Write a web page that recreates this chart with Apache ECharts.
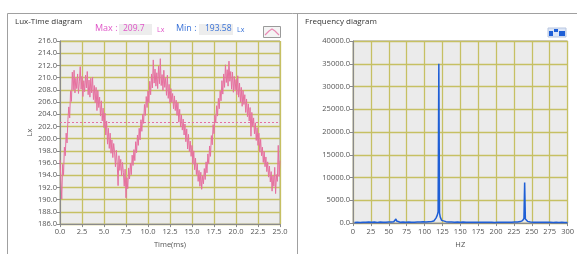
<!DOCTYPE html>
<html>
<head>
<meta charset="utf-8">
<script src="https://cdn.jsdelivr.net/npm/echarts@6/dist/echarts.min.js"></script>
<style>
  html, body { margin: 0; padding: 0; background: #fff; }
  #main { width: 577px; height: 254px; }
</style>
</head>
<body>
<div id="main"></div>
<script>
// lux samples, one every 0.1 ms (0.0 .. 25.0)
var luxValues = [
  196.5, 193.2, 190.1, 195.8, 194.0, 198.6, 197.2, 200.9, 199.3, 203.1,
  205.2, 203.4, 207.8, 206.1, 210.9, 208.0, 211.2, 207.5, 209.9, 208.2,
  210.6, 207.4, 209.3, 211.8, 208.1, 210.2, 206.9, 209.5, 207.7, 210.4,
  208.3, 211.0, 207.2, 209.6, 206.8, 209.9, 207.5, 210.1, 206.4, 208.7,
  205.9, 208.4, 204.6, 207.9, 205.1, 206.8, 203.7, 206.2, 202.9, 205.0,
  201.8, 204.2, 200.6, 202.9, 199.1, 201.7, 198.4, 200.9, 197.6, 199.8,
  196.9, 199.2, 197.8, 195.4, 198.1, 196.0, 192.3, 197.2, 194.8, 196.6,
  193.9, 196.1, 194.5, 192.2, 195.0, 190.3, 193.6, 191.8, 195.2, 193.4,
  196.0, 194.1, 197.3, 195.6, 198.2, 196.4, 199.5, 197.7, 200.6, 198.9,
  201.7, 199.8, 203.1, 201.2, 204.0, 202.5, 205.6, 203.8, 206.9, 205.1,
  207.8, 205.9, 209.4, 207.2, 210.6, 208.3, 212.9, 209.1, 211.4, 208.6,
  210.8, 208.2, 211.9, 209.0, 213.1, 208.7, 210.5, 207.9, 211.2, 208.4,
  209.9, 207.1, 210.4, 206.6, 208.9, 205.8, 208.2, 206.0, 207.4, 204.9,
  207.0, 204.6, 206.3, 203.8, 205.9, 202.7, 204.8, 201.9, 203.9, 201.4,
  203.2, 200.6, 202.4, 199.5, 201.6, 198.3, 200.7, 197.9, 199.6, 197.1,
  198.9, 195.8, 198.0, 194.9, 196.8, 194.1, 195.9, 193.0, 194.8, 192.2,
  194.5, 191.7, 193.9, 192.6, 195.1, 193.3, 196.2, 194.4, 197.5, 195.9,
  198.8, 197.1, 200.5, 199.0, 202.3, 200.8, 203.9, 202.6, 205.4, 203.7,
  206.6, 204.9, 207.8, 206.2, 209.5, 207.3, 210.6, 208.4, 212.1, 209.2,
  211.3, 208.6, 212.7, 209.4, 211.0, 208.1, 210.9, 207.6, 210.2, 208.0,
  209.7, 207.2, 210.3, 206.8, 209.1, 206.0, 208.4, 205.3, 207.9, 205.6,
  207.2, 204.3, 206.5, 203.6, 205.7, 202.9, 205.1, 200.4, 204.3, 202.0,
  203.4, 200.8, 202.6, 199.7, 201.8, 198.9, 200.9, 197.8, 199.9, 197.2,
  198.6, 196.1, 197.9, 195.4, 197.0, 194.6, 196.2, 193.7, 195.5, 192.9,
  194.6, 191.4, 193.9, 192.2, 195.3, 191.0, 194.1, 193.0, 198.9, 193.8,
  196.4
];
var luxStep = 0.1;
var luxMean = 202.7;
var luxMaxText = '209.7';
var luxMinText = '193.58';

var freqHz = [
  2, 6, 10, 14, 18, 22, 26, 30, 34, 38, 42, 46, 50, 54, 57, 59, 60, 61, 63, 66,
  70, 74, 78, 82, 86, 90, 94, 98, 102, 106, 110, 113, 115, 116, 117, 118, 119, 120, 121, 122,
  123, 124, 126, 130, 134, 138, 142, 146, 150, 154, 158, 162, 166, 170, 174, 178, 182, 186, 190, 194,
  198, 202, 206, 210, 214, 218, 222, 226, 230, 234, 236, 237, 238, 239, 240, 241, 242, 244, 248, 252,
  256, 260, 264, 268, 272, 276, 280, 284, 288, 292, 296, 300
];
var freqAmp = [
  120, 180, 150, 210, 170, 260, 190, 230, 160, 240, 200, 170, 220, 260, 300, 500, 900, 450, 250, 200,
  230, 180, 250, 210, 190, 260, 220, 280, 240, 300, 350, 450, 700, 1100, 1500, 1800, 2500, 35000, 2200, 1300,
  900, 600, 400, 320, 260, 230, 200, 250, 190, 220, 180, 210, 170, 200, 160, 190, 170, 210, 160, 180,
  150, 190, 170, 200, 180, 210, 190, 230, 260, 330, 420, 550, 700, 1000, 8900, 900, 600, 380, 260, 210,
  180, 200, 170, 190, 160, 180, 150, 170, 140, 160, 130, 150
];

var luxData = luxValues.map(function (v, i) { return [+(i * luxStep).toFixed(1), v]; });
var freqData = freqHz.map(function (f, i) { return [f, freqAmp[i]]; });

var font = '"Open Sans", "DejaVu Sans", sans-serif';
var gridColor = '#c6c063';
var labelStyle = { color: '#555', fontSize: 7.5, fontFamily: font };

function valAxis(opt) {
  return Object.assign({
    type: 'value',
    axisLine: { show: true, onZero: false, lineStyle: { color: '#8a8a8a', width: 1 } },
    axisTick: { show: true, length: 3, lineStyle: { color: '#8a8a8a' } },
    splitLine: { show: true, lineStyle: { color: gridColor, width: 1.3 } },
    axisLabel: Object.assign({ margin: 3 }, labelStyle),
    nameTextStyle: { color: '#555', fontSize: 7.5, fontFamily: font }
  }, opt);
}

var myChart = echarts.init(document.getElementById('main'));
var option = {
  backgroundColor: '#fff',
  animation: false,
  grid: [
    { left: 60, top: 41, width: 220, height: 188, show: true, backgroundColor: '#ebebeb', borderColor: '#9a9a9a', borderWidth: 1 },
    { left: 353, top: 41, width: 217, height: 186, show: true, backgroundColor: '#ebebeb', borderColor: '#9a9a9a', borderWidth: 1 }
  ],
  xAxis: [
    valAxis({ gridIndex: 0, min: 0, max: 25, interval: 2.5, name: 'Time(ms)', nameLocation: 'middle', nameGap: 13,
      axisLabel: Object.assign({ margin: 4, formatter: function (v) { return v.toFixed(1); } }, labelStyle) }),
    valAxis({ gridIndex: 1, min: 0, max: 300, interval: 25, name: 'HZ', nameLocation: 'middle', nameGap: 15,
      axisLabel: Object.assign({ margin: 5 }, labelStyle) })
  ],
  yAxis: [
    valAxis({ gridIndex: 0, min: 186, max: 216, interval: 2, name: 'Lx', nameLocation: 'middle', nameGap: 26,
      axisLabel: Object.assign({ margin: 3, formatter: function (v) { return v.toFixed(1); } }, labelStyle) }),
    valAxis({ gridIndex: 1, min: 0, max: 40000, interval: 5000,
      axisLabel: Object.assign({ margin: 3, formatter: function (v) { return v.toFixed(1); } }, labelStyle) })
  ],
  series: [
    {
      type: 'line', xAxisIndex: 0, yAxisIndex: 0, data: luxData, showSymbol: false,
      lineStyle: { color: '#e6709f', width: 1 },
      markLine: {
        silent: true, symbol: 'none', label: { show: false },
        lineStyle: { color: '#e6709f', type: [2, 2], width: 1 },
        data: [{ yAxis: luxMean }]
      }
    },
    {
      type: 'line', xAxisIndex: 1, yAxisIndex: 1, data: freqData, showSymbol: false,
      lineStyle: { color: '#1f5fd6', width: 1.5 }
    }
  ],
  graphic: [
    // panel frames
    { type: 'line', shape: { x1: 7.5, y1: 13.5, x2: 577, y2: 13.5 }, style: { stroke: '#a0a0a0', lineWidth: 1 } },
    { type: 'line', shape: { x1: 7.5, y1: 13.5, x2: 7.5, y2: 254 }, style: { stroke: '#a0a0a0', lineWidth: 1 } },
    { type: 'line', shape: { x1: 297.5, y1: 13.5, x2: 297.5, y2: 254 }, style: { stroke: '#a0a0a0', lineWidth: 1 } },
    // titles
    { type: 'text', left: 15, top: 18, style: { text: 'Lux-Time diagram', fill: '#333', font: '8px ' + font } },
    { type: 'text', left: 305, top: 18, style: { text: 'Frequency diagram', fill: '#333', font: '8px ' + font } },
    // max / min readouts
    { type: 'text', left: 95, top: 24, style: { text: 'Max :', fill: '#e056c8', font: '9px ' + font } },
    { type: 'rect', shape: { x: 119, y: 24, width: 33, height: 11 }, style: { fill: '#ededed' } },
    { type: 'text', left: 123, top: 24, style: { text: luxMaxText, fill: '#e056c8', font: '8.5px ' + font } },
    { type: 'text', left: 157, top: 26, style: { text: 'Lx', fill: '#e056c8', font: '7px ' + font } },
    { type: 'text', left: 176, top: 24, style: { text: 'Min :', fill: '#3a73d8', font: '9px ' + font } },
    { type: 'rect', shape: { x: 199, y: 24, width: 34, height: 11 }, style: { fill: '#ededed' } },
    { type: 'text', left: 205, top: 24, style: { text: luxMinText, fill: '#3a73d8', font: '8.5px ' + font } },
    { type: 'text', left: 237, top: 26, style: { text: 'Lx', fill: '#3a73d8', font: '7px ' + font } },
    // left plot icon
    { type: 'rect', shape: { x: 263.5, y: 26.5, width: 17, height: 11 }, style: { fill: '#f4f4f4', stroke: '#9a9a9a', lineWidth: 1 } },
    { type: 'polyline', shape: { points: [[265, 35], [269, 31], [272, 29], [275, 31], [279, 35]] }, style: { stroke: '#e88ab4', lineWidth: 1.2, fill: null } },
    // right plot icon
    { type: 'rect', shape: { x: 548, y: 28, width: 18, height: 9 }, style: { fill: '#dce6f7', stroke: '#b8c6e0', lineWidth: 1 } },
    { type: 'rect', shape: { x: 549, y: 31, width: 4, height: 5 }, style: { fill: '#1f5fd6' } },
    { type: 'rect', shape: { x: 554, y: 29, width: 4, height: 3 }, style: { fill: '#1f5fd6' } },
    { type: 'rect', shape: { x: 559, y: 31, width: 6, height: 5 }, style: { fill: '#1f5fd6' } }
  ]
};
myChart.setOption(option);
</script>
</body>
</html>
